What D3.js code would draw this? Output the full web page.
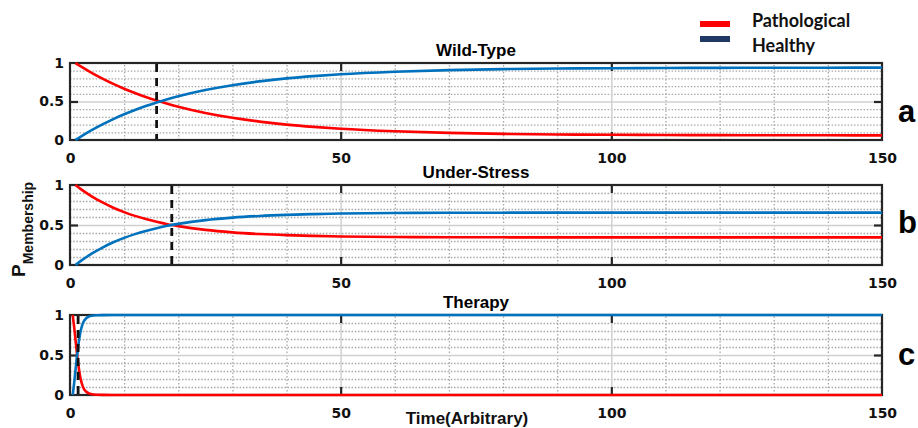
<!DOCTYPE html>
<html>
<head>
<meta charset="utf-8">
<script src="https://cdn.jsdelivr.net/npm/d3@7"></script>
<style>
  body { margin: 0; background: #fff; }
  svg { display: block; }
</style>
</head>
<body>
<svg id="chart"></svg>
<script>
// values
var xTicks = [0, 50, 100, 150];
var yTicks = [0, 0.5, 1];
var yTickLabels = ["0", "0.5", "1"];
var minorX = [10, 20, 30, 40, 60, 70, 80, 90, 110, 120, 130, 140];
var minorY = [0.1, 0.2, 0.3, 0.4, 0.6, 0.7, 0.8, 0.9];
var seriesNames = ["Pathological", "Healthy"];

// Wild-Type
var tA = [1, 2, 4, 6, 8, 10, 12, 14, 16, 18, 20, 25, 30, 35, 40, 45, 50, 60, 70, 80, 90, 100, 110, 120, 130, 140, 150];
var pathA = [1.000, 0.955, 0.872, 0.797, 0.728, 0.666, 0.610, 0.559, 0.512, 0.470, 0.432, 0.351, 0.288, 0.239, 0.200, 0.170, 0.146, 0.113, 0.092, 0.080, 0.072, 0.068, 0.065, 0.063, 0.062, 0.061, 0.060];
var healthyA = [0.000, 0.045, 0.128, 0.203, 0.272, 0.334, 0.390, 0.441, 0.488, 0.530, 0.568, 0.649, 0.712, 0.761, 0.800, 0.830, 0.854, 0.887, 0.908, 0.920, 0.928, 0.932, 0.935, 0.937, 0.938, 0.939, 0.940];

// Under-Stress
var tB = [1, 2, 4, 6, 8, 10, 12, 14, 16, 18, 20, 25, 30, 35, 40, 45, 50, 60, 70, 80, 90, 100, 110, 120, 130, 140, 150];
var pathB = [1.000, 0.949, 0.859, 0.782, 0.716, 0.661, 0.614, 0.574, 0.540, 0.510, 0.486, 0.439, 0.408, 0.387, 0.373, 0.364, 0.357, 0.350, 0.347, 0.346, 0.345, 0.345, 0.345, 0.345, 0.345, 0.345, 0.345];
var healthyB = [0.000, 0.051, 0.141, 0.218, 0.284, 0.339, 0.386, 0.426, 0.460, 0.490, 0.514, 0.561, 0.592, 0.613, 0.627, 0.636, 0.643, 0.650, 0.653, 0.654, 0.655, 0.655, 0.655, 0.655, 0.655, 0.655, 0.655];

// Therapy
var tC = [0.5, 0.75, 1, 1.25, 1.5, 1.75, 2, 2.25, 2.5, 3, 3.5, 4, 5, 6, 8, 150];
var pathC = [1.00, 0.86, 0.70, 0.54, 0.40, 0.28, 0.19, 0.13, 0.085, 0.04, 0.02, 0.01, 0.003, 0.001, 0, 0];
var healthyC = [0.00, 0.14, 0.30, 0.46, 0.60, 0.72, 0.81, 0.87, 0.915, 0.96, 0.98, 0.99, 0.997, 0.999, 1, 1];

var titles = ["Wild-Type", "Under-Stress", "Therapy"];
var letters = ["a", "b", "c"];
var dashT = [16, 18.8, 1.5];

var width = 918,
    height = 428,
    left = 70,
    right = 882;

var layout = [
    {top: 63, bottom: 140, letterY: 122},
    {top: 185, bottom: 265, letterY: 233},
    {top: 315, bottom: 395, letterY: 365}
];

var red = "#ff0000",
    blue = "#0072bd",
    navy = "#203864",
    frame = "#262626";

var svg = d3.select("#chart")
    .attr("width", width)
    .attr("height", height)
    .style("font-family", "'Liberation Sans', Arial, sans-serif");

var x = d3.scaleLinear().domain([0, 150]).range([left, right]);

var allData = [
    {t: tA, series: [pathA, healthyA]},
    {t: tB, series: [pathB, healthyB]},
    {t: tC, series: [pathC, healthyC]}
];

allData.forEach((d, i) => {
    let box = layout[i];
    let h = box.bottom - box.top;
    let y = d3.scaleLinear().domain([0, 1]).range([box.bottom, box.top]);
    let g = svg.append("g");

    g.append("rect")
        .attr("x", left).attr("y", box.top)
        .attr("width", right - left).attr("height", h)
        .attr("fill", "#fff");

    // minor grid (dotted)
    g.append("g")
        .attr("transform", `translate(0, ${box.bottom})`)
        .call(d3.axisBottom(x).tickValues(minorX).tickSize(-h).tickFormat(""))
        .call(a => a.select(".domain").remove())
        .selectAll("line")
        .attr("stroke", "#a8a8a8").attr("stroke-width", 1.3)
        .attr("stroke-dasharray", "1.5,2");

    g.append("g")
        .attr("transform", `translate(${left}, 0)`)
        .call(d3.axisLeft(y).tickValues(minorY).tickSize(-(right - left)).tickFormat(""))
        .call(a => a.select(".domain").remove())
        .selectAll("line")
        .attr("stroke", "#a8a8a8").attr("stroke-width", 1.3)
        .attr("stroke-dasharray", "1.5,1.7");

    // major grid (solid light grey)
    g.append("g")
        .attr("transform", `translate(0, ${box.bottom})`)
        .call(d3.axisBottom(x).tickValues([50, 100]).tickSize(-h).tickFormat(""))
        .call(a => a.select(".domain").remove())
        .selectAll("line")
        .attr("stroke", "#d0d0d0").attr("stroke-width", 1.5);

    g.append("g")
        .attr("transform", `translate(${left}, 0)`)
        .call(d3.axisLeft(y).tickValues([0.5]).tickSize(-(right - left)).tickFormat(""))
        .call(a => a.select(".domain").remove())
        .selectAll("line")
        .attr("stroke", "#d0d0d0").attr("stroke-width", 1.5);

    // frame
    g.append("rect")
        .attr("x", left).attr("y", box.top)
        .attr("width", right - left).attr("height", h)
        .attr("fill", "none")
        .attr("stroke", frame).attr("stroke-width", 2.2);

    // inward ticks
    let tickStyle = sel => sel.call(a => a.select(".domain").remove())
        .selectAll("line").attr("stroke", frame).attr("stroke-width", 2.2);
    g.append("g").attr("transform", `translate(0, ${box.bottom})`)
        .call(d3.axisBottom(x).tickValues([50, 100]).tickSize(-8).tickFormat(""))
        .call(tickStyle);
    g.append("g").attr("transform", `translate(0, ${box.top})`)
        .call(d3.axisTop(x).tickValues([50, 100]).tickSize(-8).tickFormat(""))
        .call(tickStyle);
    g.append("g").attr("transform", `translate(${left}, 0)`)
        .call(d3.axisLeft(y).tickValues([0.5]).tickSize(-8).tickFormat(""))
        .call(tickStyle);
    g.append("g").attr("transform", `translate(${right}, 0)`)
        .call(d3.axisRight(y).tickValues([0.5]).tickSize(-8).tickFormat(""))
        .call(tickStyle);

    // tick labels
    g.append("g")
        .attr("transform", `translate(0, ${box.bottom})`)
        .call(d3.axisBottom(x).tickValues(xTicks).tickSize(0).tickPadding(13))
        .call(a => a.select(".domain").remove())
        .selectAll("text")
        .style("font-family", "'DejaVu Sans', sans-serif")
        .style("font-weight", "bold").style("font-size", "14px")
        .attr("fill", "#111");

    g.append("g")
        .attr("transform", `translate(${left}, 0)`)
        .call(d3.axisLeft(y).tickValues(yTicks).tickSize(0).tickPadding(6)
            .tickFormat((v, k) => yTickLabels[k]))
        .call(a => a.select(".domain").remove())
        .selectAll("text")
        .style("font-family", "'DejaVu Sans', sans-serif")
        .style("font-weight", "bold").style("font-size", "14px")
        .attr("fill", "#111");

    // curves
    let line = d3.line()
        .x((v, k) => x(d.t[k]))
        .y(v => y(v))
        .curve(d3.curveMonotoneX);

    g.selectAll(".curve")
        .data(d.series)
        .join("path")
        .attr("class", "curve")
        .attr("d", line)
        .attr("fill", "none")
        .attr("stroke", (s, k) => k === 0 ? red : blue)
        .attr("stroke-width", 2.6);

    // dashed marker
    g.append("line")
        .attr("x1", x(dashT[i])).attr("x2", x(dashT[i]))
        .attr("y1", box.top + 1).attr("y2", box.bottom - 1)
        .attr("stroke", "#111").attr("stroke-width", 2.8)
        .attr("stroke-dasharray", "8,6");

    // title
    g.append("text")
        .attr("x", (left + right) / 2).attr("y", box.top - 7.5)
        .attr("text-anchor", "middle")
        .style("font-weight", "bold").style("font-size", "17px")
        .text(titles[i]);

    // panel letter
    g.append("text")
        .attr("x", 898).attr("y", box.letterY)
        .style("font-weight", "bold").style("font-size", "31px")
        .text(letters[i]);
});

// y label
let ylab = svg.append("text")
    .attr("transform", "translate(25, 277) rotate(-90)")
    .style("font-weight", "bold")
    .attr("fill", "#111");
ylab.append("tspan").style("font-size", "19px").text("P");
ylab.append("tspan").attr("dy", 8.3).style("font-size", "14px").text("Membership");

// x label
svg.append("text")
    .attr("x", 467).attr("y", 424)
    .attr("text-anchor", "middle")
    .style("font-weight", "bold").style("font-size", "17px")
    .attr("fill", "#111")
    .text("Time(Arbitrary)");

// legend
let legend = svg.append("g");
legend.selectAll("rect")
    .data(seriesNames)
    .join("rect")
    .attr("x", 700).attr("y", (s, k) => 21 + k * 15)
    .attr("width", 30).attr("height", 6)
    .attr("fill", (s, k) => k === 0 ? red : navy);
legend.selectAll("text")
    .data(seriesNames)
    .join("text")
    .attr("x", 752).attr("y", (s, k) => 27 + k * 25)
    .style("font-family", "Lato, 'Open Sans', sans-serif")
    .style("font-weight", "bold").style("font-size", "18px")
    .attr("fill", "#111")
    .text(s => s);
</script>
</body>
</html>
